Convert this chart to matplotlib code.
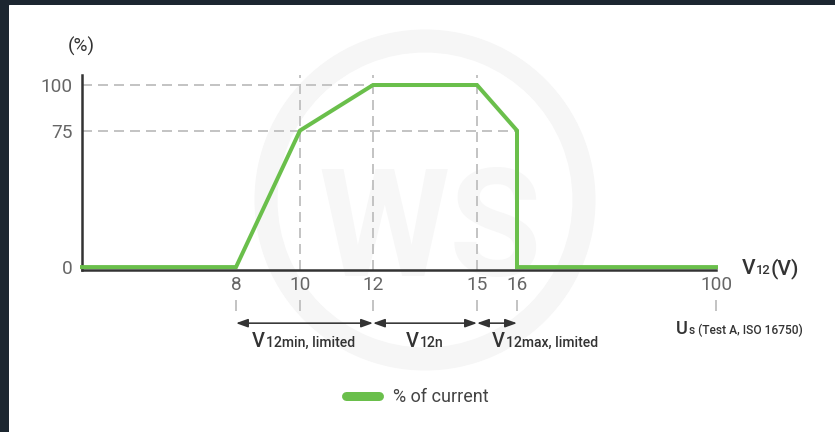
import numpy as np
import matplotlib.pyplot as plt
from matplotlib.offsetbox import TextArea, HPacker, AnnotationBbox
from matplotlib.patches import Rectangle, Annulus, FancyArrowPatch
from matplotlib.lines import Line2D

plt.rcParams['font.family'] = ['Roboto', 'DejaVu Sans']

# data
volt = [0, 8, 10, 12, 15, 16, 16, 100]
current = [0, 0, 75, 100, 100, 75, 0, 0]
xticks = [8, 10, 12, 15, 16, 100]
yticks = [0, 75, 100]
guide_x = [10, 12, 15]
guide_y = [100, 75]
guide_y_end = [15, 16]
ranges = [(8, 12), (12, 15), (15, 16)]
range_labels = [('V', '12min, limited'), ('V', '12n'), ('V', '12max, limited')]

green = '#6abf4b'
dark = '#333333'
grey = '#c4c4c4'

# the x axis is not linear in the original, warp it piecewise
warp_vals = [0, 8, 10, 12, 15, 16, 100]
warp_pos = [0, 154, 218, 291, 395, 435, 634]


def fwd(x):
    return np.interp(x, warp_vals, warp_pos)


def inv(p):
    return np.interp(p, warp_pos, warp_vals)


fig = plt.figure(figsize=(835 / 72, 432 / 72), dpi=72, facecolor='#1c2630')
fig.add_artist(Rectangle((9 / 835, 0), 1, (432 - 5) / 432, transform=fig.transFigure,
                         color='white', zorder=0))

# faint watermark
fig.add_artist(Annulus((425 / 72, (432 - 200) / 72), 170 / 72, 22 / 72,
                       transform=fig.dpi_scale_trans, color='#f6f6f6', zorder=0.5))
fig.text(430 / 835, 1 - 235 / 432, 'WS', fontsize=150, fontweight='bold', color='#f7f7f7',
         ha='center', va='center', zorder=0.6)

ax = fig.add_axes([82 / 835, (432 - 270) / 432, 634 / 835, 195 / 432])
ax.set_zorder(1)
ax.set_facecolor('none')
ax.set_xscale('function', functions=(fwd, inv))
ax.set_xlim(0, 100)
ax.set_ylim(-1.6, 105.5)

# guides
for v in guide_x:
    ax.axvline(v, color=grey, lw=2, ls=(0, (5, 3)), zorder=1)
ax.hlines(guide_y, 0, guide_y_end, color=grey, lw=2, ls=(0, (5, 3)), zorder=1)

ax.plot(volt, current, color=green, lw=4, solid_joinstyle='miter', zorder=3, clip_on=False)

ax.spines[['top', 'right']].set_visible(False)
for s in ['left', 'bottom']:
    ax.spines[s].set_color(dark)
    ax.spines[s].set_linewidth(2.5)

ax.set_xticks(xticks)
ax.set_xticklabels([str(t) for t in xticks])
ax.set_yticks(yticks)
ax.tick_params(axis='x', length=0, pad=6, labelsize=19, labelcolor='#666666')
ax.tick_params(axis='y', length=0, pad=9, labelsize=19, labelcolor='#666666')
ax.xaxis.set_minor_locator(plt.NullLocator())

# small marks below the axis
ax.vlines(xticks, -18.1, -24.2, color=grey, lw=2, clip_on=False)

# range arrows and their labels
arrow_y = -30.8
label_x = [10.1, 13.5, 27.8]
for (a, b), (big, small), lx in zip(ranges, range_labels, label_x):
    arr = FancyArrowPatch((a, arrow_y), (b, arrow_y),
                          arrowstyle='<|-|>,head_length=0.7,head_width=0.25',
                          color=dark, lw=1.6, shrinkA=0, shrinkB=0,
                          mutation_scale=14, clip_on=False)
    ax.add_patch(arr)
    box = HPacker(children=[TextArea(big, textprops=dict(fontsize=20, color=dark, fontweight='medium')),
                            TextArea(small, textprops=dict(fontsize=14, color=dark, fontweight='medium'))],
                  align='baseline', pad=0, sep=1)
    ax.add_artist(AnnotationBbox(box, (lx, -40.6), frameon=False, box_alignment=(0.5, 0.5),
                                 annotation_clip=False, pad=0))

# axis names
box = HPacker(children=[TextArea('V', textprops=dict(fontsize=21, color=dark, fontweight='medium')),
                        TextArea('12', textprops=dict(fontsize=13, color=dark, fontweight='medium')),
                        TextArea('(V)', textprops=dict(fontsize=21, color=dark, fontweight='medium'))],
              align='baseline', pad=0, sep=0)
ax.add_artist(AnnotationBbox(box, (100, 0), xybox=(26, -1), boxcoords='offset points',
                             frameon=False, box_alignment=(0, 0.5), annotation_clip=False, pad=0))

box = HPacker(children=[TextArea('U', textprops=dict(fontsize=18, color=dark, fontweight='medium')),
                        TextArea('s (Test A, ISO 16750)', textprops=dict(fontsize=12, color=dark, fontweight='medium'))],
              align='baseline', pad=0, sep=1)
ax.add_artist(AnnotationBbox(box, (100, -33.5), xybox=(23, -1), boxcoords='offset points',
                             frameon=False, box_alignment=(0.5, 0.5), annotation_clip=False, pad=0))

fig.text(68 / 835, 1 - 46 / 432, '(%)', fontsize=19, color=dark, va='center')

handle = Line2D([], [], color=green, lw=9, solid_capstyle='round')
fig.legend(handles=[handle], labels=['% of current'], loc='center',
           bbox_to_anchor=(0.5, 35 / 432), frameon=False, fontsize=18,
           handlelength=1.8, handletextpad=0.8, labelcolor='#444444')

fig.savefig('out.png', dpi=72, facecolor=fig.get_facecolor())
